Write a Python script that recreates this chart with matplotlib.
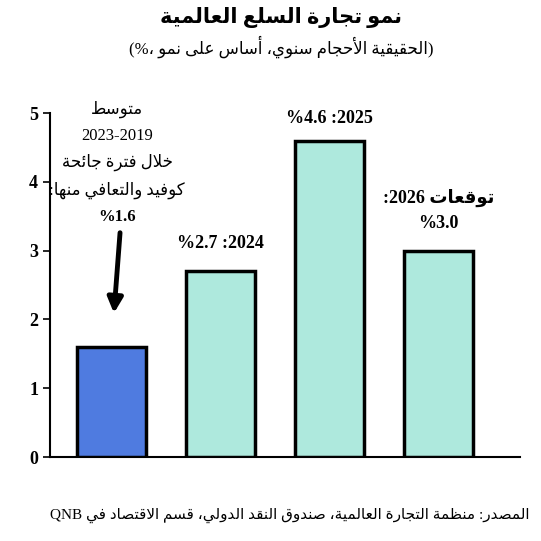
import matplotlib
matplotlib.use("Agg")
import matplotlib.pyplot as plt

categories = ["2019-2023", "2024", "2025", "2026"]
values = [1.6, 2.7, 4.6, 3.0]
colors = ["#4f7be0", "#aee9dd", "#aee9dd", "#aee9dd"]
yticks = [0, 1, 2, 3, 4, 5]

# --- minimal Arabic shaping (presentation forms) ---
FOUR = {'ئ':0xFE89,'ب':0xFE8F,'ت':0xFE95,'ث':0xFE99,'ج':0xFE9D,'ح':0xFEA1,'خ':0xFEA5,
        'س':0xFEB1,'ش':0xFEB5,'ص':0xFEB9,'ض':0xFEBD,'ط':0xFEC1,'ظ':0xFEC5,'ع':0xFEC9,
        'غ':0xFECD,'ف':0xFED1,'ق':0xFED5,'ك':0xFED9,'ل':0xFEDD,'م':0xFEE1,'ن':0xFEE5,
        'ه':0xFEE9,'ي':0xFEF1}
TWO = {'آ':0xFE81,'أ':0xFE83,'ؤ':0xFE85,'إ':0xFE87,'ا':0xFE8D,'ة':0xFE93,'د':0xFEA9,
       'ذ':0xFEAB,'ر':0xFEAD,'ز':0xFEAF,'و':0xFEED,'ى':0xFEEF}
LAMALEF = {'ا':0xFEFB,'أ':0xFEF7,'آ':0xFEF5,'إ':0xFEF9}

def shape(word):
    chars = list(word)
    out = []
    i = 0
    n = len(chars)
    def joins_prev(k):
        return k > 0 and chars[k-1] in FOUR
    while i < n:
        c = chars[i]
        if c == 'ل' and i+1 < n and chars[i+1] in LAMALEF:
            b = LAMALEF[chars[i+1]]
            out.append(chr(b+1 if joins_prev(i) else b))
            i += 2
            continue
        jp = joins_prev(i)
        jn = (i+1 < n) and (chars[i+1] in FOUR or chars[i+1] in TWO)
        if c in FOUR:
            b = FOUR[c]
            if jp and jn: out.append(chr(b+3))
            elif jp: out.append(chr(b+1))
            elif jn: out.append(chr(b+2))
            else: out.append(chr(b))
        elif c in TWO:
            b = TWO[c]
            out.append(chr(b+1 if jp else b))
        else:
            out.append(c)
        i += 1
    return ''.join(out)

def is_ar(t):
    return any('\u0600' <= ch <= '\u06FF' for ch in t)

def vis(tokens):
    return ' '.join(shape(t)[::-1] if is_ar(t) else t for t in tokens)

FAM = ['Liberation Serif', 'DejaVu Sans']
plt.rcParams['font.family'] = FAM

fig = plt.figure(figsize=(5.41, 5.41), dpi=100)
ax = fig.add_axes([50/541, 84/541, 470/541, 344/541])
x = list(range(len(values)))
ax.bar(x, values, width=0.635, color=colors, edgecolor='black', linewidth=2.5, zorder=3)
ax.set_ylim(0, 5)
ax.set_xlim(-0.565, 3.75)
ax.set_yticks(yticks)
ax.set_yticklabels([str(t) for t in yticks], fontsize=13, fontweight='bold')
ax.set_xticks([])
for s in ['top', 'right']:
    ax.spines[s].set_visible(False)
ax.spines['left'].set_linewidth(1.5)
ax.spines['bottom'].set_linewidth(1.5)
ax.tick_params(axis='y', length=5, width=1.2, direction='out')

# annotations
ann = [(vis(['متوسط']), 5.05, 'normal'),
       ('2023-2019', 4.66, 'normal'),
       (vis(['جائحة', 'فترة', 'خلال']), 4.28, 'normal'),
       (vis(['منها:', 'والتعافي', 'كوفيد']), 3.88, 'normal'),
       ('%' + f'{values[0]}', 3.49, 'bold')]
for t, y, w in ann:
    ax.text(0.05, y, t, ha='center', va='center', fontsize=12, fontweight=w)
ax.annotate('', xy=(0.02, 2.05), xytext=(0.08, 3.3),
            arrowprops=dict(arrowstyle='-|>,head_width=0.45,head_length=0.9', color='black', lw=3.5))
ax.text(1, values[1] + 0.4, f'%{values[1]} :{categories[1]}', ha='center', va='center',
        fontsize=13, fontweight='bold')
ax.text(2, values[2] + 0.32, f'%{values[2]} :{categories[2]}', ha='center', va='center',
        fontsize=13, fontweight='bold')
ax.text(3, 3.76, ':' + categories[3] + ' ' + shape('توقعات')[::-1], ha='center', va='center',
        fontsize=13, fontweight='bold')
ax.text(3, 3.4, f'%{values[3]:.1f}', ha='center', va='center', fontsize=13, fontweight='bold')

fig.text(0.52, 1 - 18/541, vis(['العالمية', 'السلع', 'تجارة', 'نمو']), ha='center', va='center',
         fontsize=15, fontweight='bold')
fig.text(0.52, 1 - 47/541, '(%، ' + vis(['نمو', 'على', 'أساس', 'سنوي،', 'الأحجام', 'الحقيقية']) + ')',
         ha='center', va='center', fontsize=12)
fig.text(0.535, 1 - 515/541,
         vis(['في', 'الاقتصاد', 'قسم', 'الدولي،', 'النقد', 'صندوق', 'العالمية،', 'التجارة', 'منظمة', 'المصدر:'])
         .replace(shape('في')[::-1], 'QNB ' + shape('في')[::-1], 1),
         ha='center', va='center', fontsize=11)

fig.savefig('out.png', dpi=100)
